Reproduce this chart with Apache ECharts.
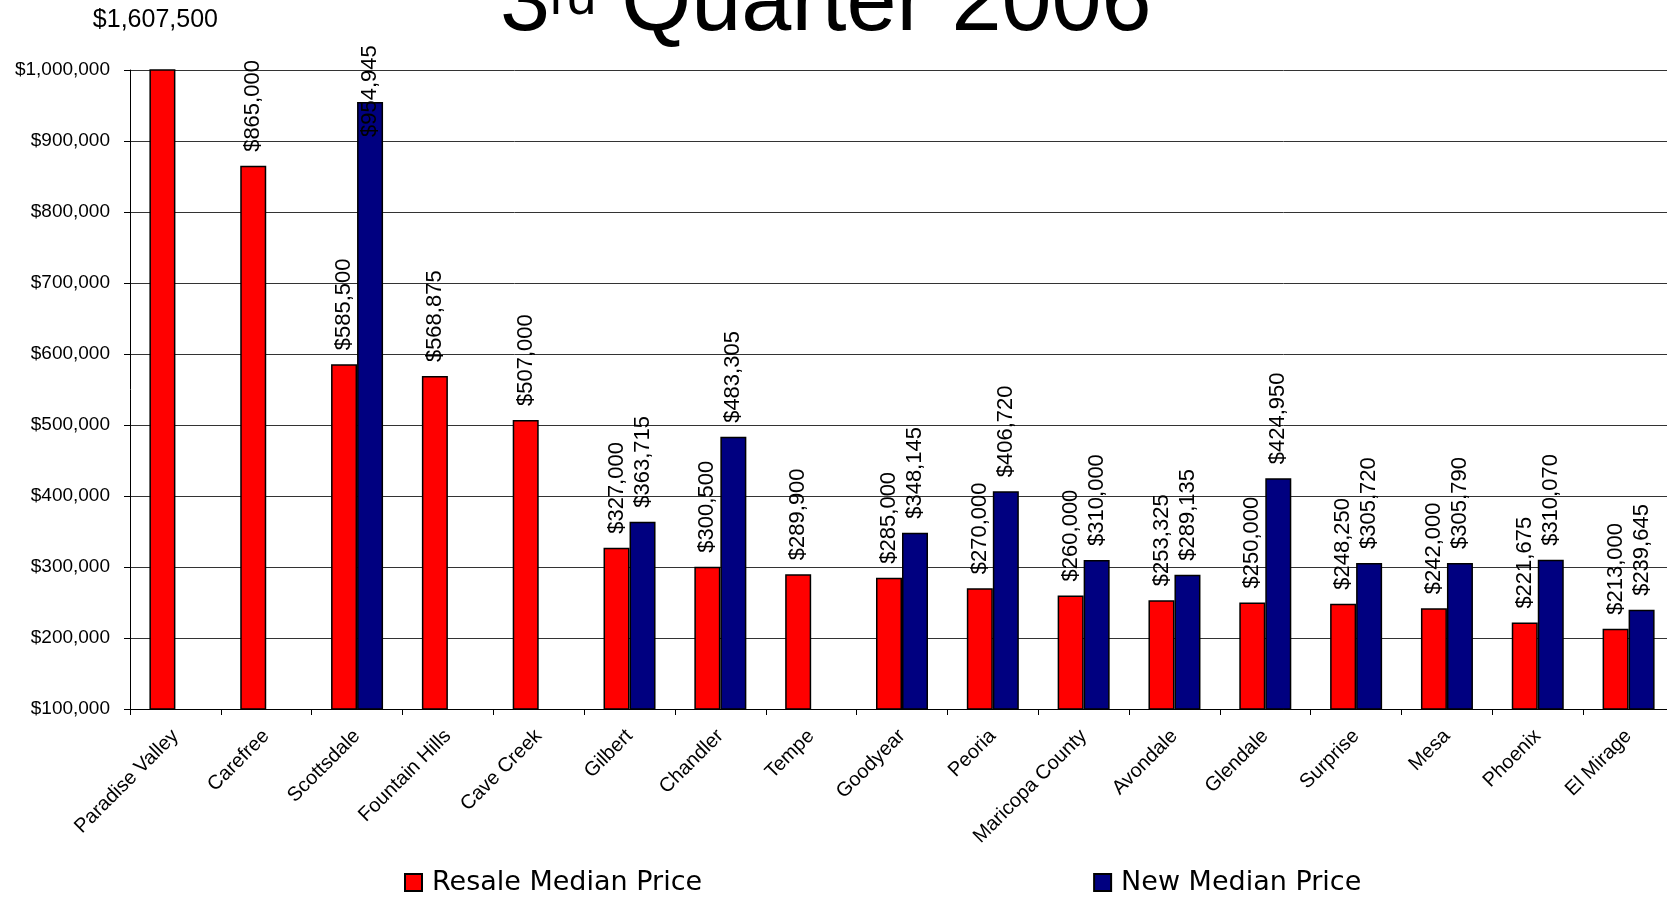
<!DOCTYPE html>
<html>
<head>
<meta charset="utf-8">
<title>3rd Quarter 2006 Median Prices</title>
<script src="https://cdn.jsdelivr.net/npm/echarts@6/dist/echarts.min.js"></script>
<style>
  html, body { margin: 0; padding: 0; background: #fff; }
  #chart { width: 1667px; height: 898px; }
</style>
</head>
<body>
<div id="chart"></div>
<script>
// Median home prices by city, 3rd quarter 2006
const cities = ['Paradise Valley', 'Carefree', 'Scottsdale', 'Fountain Hills', 'Cave Creek',
  'Gilbert', 'Chandler', 'Tempe', 'Goodyear', 'Peoria', 'Maricopa County', 'Avondale',
  'Glendale', 'Surprise', 'Mesa', 'Phoenix', 'El Mirage'];
const resalePrices = [1607500, 865000, 585500, 568875, 507000, 327000, 300500, 289900,
  285000, 270000, 260000, 253325, 250000, 248250, 242000, 221675, 213000];
const newPrices = [null, null, 954945, null, null, 363715, 483305, null,
  348145, 406720, 310000, 289135, 424950, 305720, 305790, 310070, 239645];
const seriesNames = ['Resale Median Price', 'New Median Price'];
const yTicks = { min: 100000, max: 1000000, step: 100000 };

const money = v => '$' + Number(v).toLocaleString('en-US');
const FONT = '"Liberation Sans", Arial, sans-serif';

const barLabel = {
  show: true,
  position: 'top',
  rotate: 90,
  align: 'left',
  verticalAlign: 'middle',
  distance: 14,
  fontFamily: FONT,
  fontSize: 22,
  color: '#000',
  formatter: p => money(p.value)
};

// The first resale bar runs off the top of the axis; its value sits above the plot.
const resaleData = resalePrices.map((v, i) => i === 0 ? {
  value: v,
  label: { rotate: 0, align: 'center', verticalAlign: 'bottom', distance: 37, offset: [-7, 0], fontSize: 25 }
} : v);
// Scottsdale's new-home value is pulled down so it stays inside the chart.
const newData = newPrices.map((v, i) => i === 2 ? { value: v, label: { distance: -35 } } : v);

const chart = echarts.init(document.getElementById('chart'), null, { renderer: 'canvas' });

const titleShadow = { textShadowColor: '#a8a8a8', textShadowOffsetX: 4, textShadowOffsetY: 4, textShadowBlur: 0 };

chart.setOption({
  animation: false,
  backgroundColor: '#fff',
  title: {
    text: '{a|3}{b|rd}{a| Quarter 2006}',
    left: 495,
    top: -45,
    textStyle: {
      fontWeight: 'normal',
      rich: {
        a: Object.assign({ fontFamily: FONT, fontSize: 90, fontWeight: 'normal', color: '#000' }, titleShadow),
        b: Object.assign({ fontFamily: FONT, fontSize: 52, fontWeight: 'normal', color: '#000',
          verticalAlign: 'top', padding: [14, 0, 0, 0] }, titleShadow)
      }
    }
  },
  legend: {
    data: seriesNames,
    left: 404,
    top: 869,
    padding: 0,
    itemGap: 391,
    itemWidth: 17,
    itemHeight: 17,
    icon: 'rect',
    textStyle: { fontFamily: '"DejaVu Sans", Verdana, sans-serif', fontSize: 27, color: '#000', padding: [0, 0, 0, 5] }
  },
  grid: {
    left: 130,
    top: 70,
    bottom: 189,
    width: 1544,
    outerBoundsMode: 'none'
  },
  xAxis: {
    type: 'category',
    data: cities,
    axisLine: { lineStyle: { color: '#000', width: 1 } },
    axisTick: { show: true, length: 6, lineStyle: { color: '#000' } },
    axisLabel: {
      rotate: 45,
      interval: 0,
      margin: 24,
      fontFamily: FONT,
      fontSize: 20,
      color: '#000'
    }
  },
  yAxis: {
    type: 'value',
    min: yTicks.min,
    max: yTicks.max,
    interval: yTicks.step,
    axisLine: { show: true, lineStyle: { color: '#000', width: 1 } },
    axisTick: { show: true, length: 6, lineStyle: { color: '#000' } },
    splitLine: { lineStyle: { color: '#333', width: 1 } },
    axisLabel: {
      margin: 20,
      fontFamily: FONT,
      fontSize: 19,
      color: '#000',
      formatter: v => money(v)
    }
  },
  series: [
    {
      name: seriesNames[0],
      type: 'bar',
      data: resaleData,
      barWidth: 26,
      barGap: '0%',
      clip: true,
      itemStyle: { color: '#ff0000', borderColor: '#000', borderWidth: 1.5 },
      label: barLabel
    },
    {
      name: seriesNames[1],
      type: 'bar',
      data: newData,
      barWidth: 26,
      barGap: '0%',
      clip: true,
      itemStyle: { color: '#000080', borderColor: '#000', borderWidth: 1.5 },
      label: barLabel
    }
  ]
});
</script>
</body>
</html>
